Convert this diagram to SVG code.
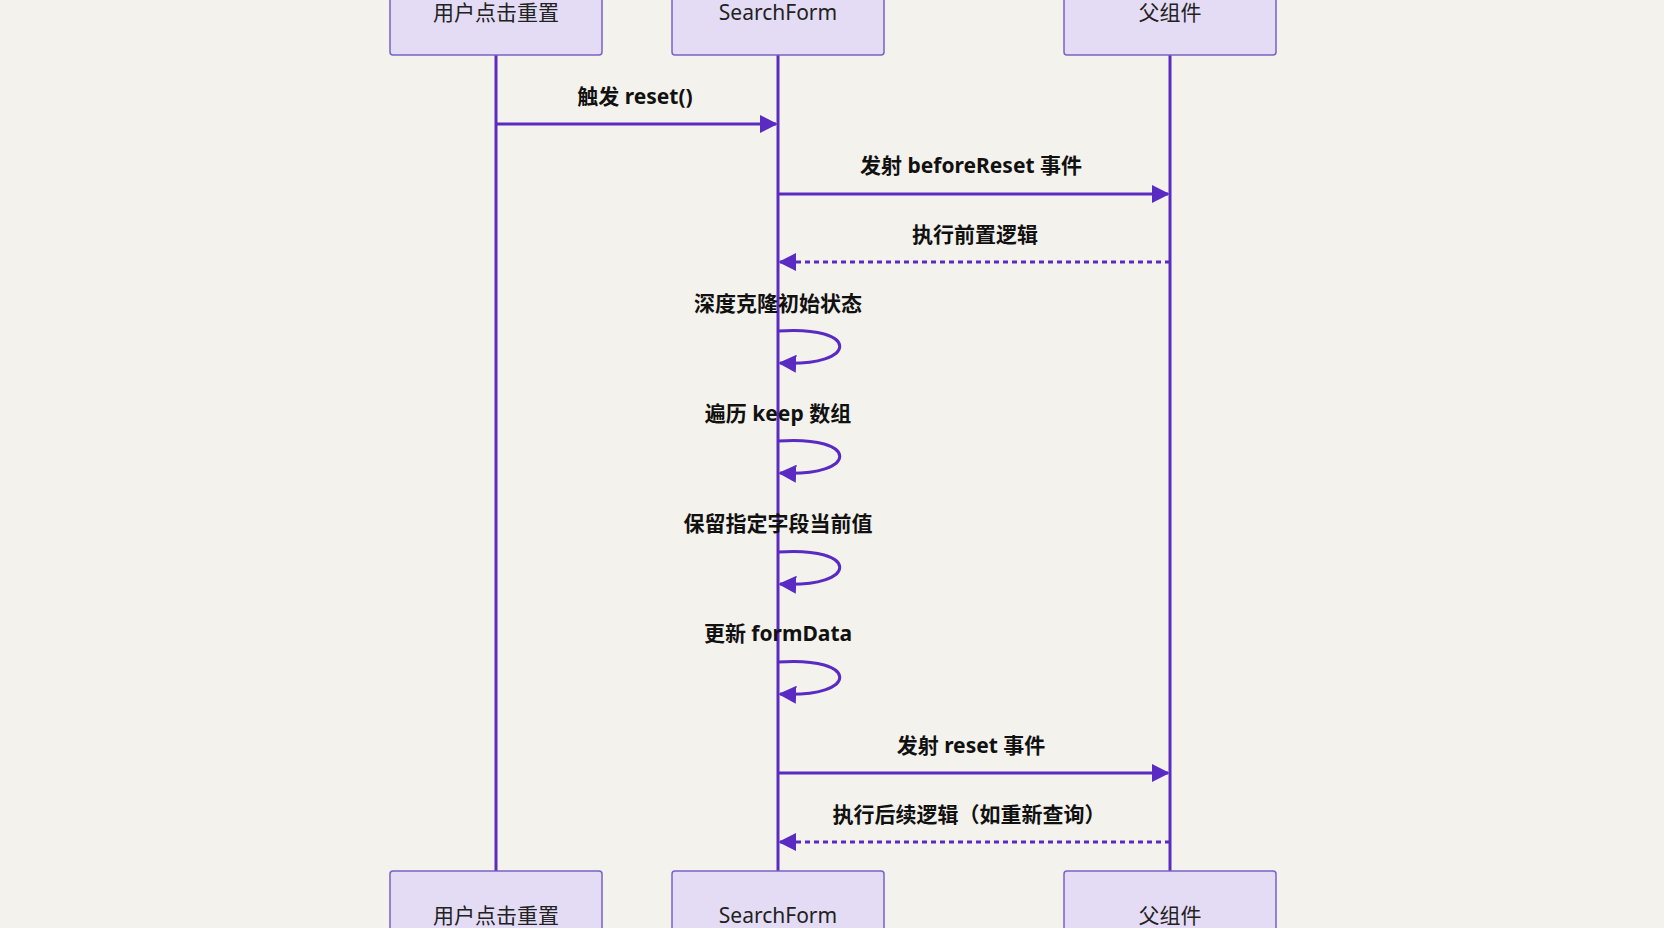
<svg xmlns="http://www.w3.org/2000/svg" width="1664" height="928" viewBox="0 0 1664 928">
<defs>
<style>
.box{fill:#e4dcf5;stroke:#7a60c8;stroke-width:1.5}
.bt{font-family:"Noto Sans","Noto Sans CJK SC",sans-serif;font-size:21px;fill:#222;text-anchor:middle}
.lbl{font-family:"Noto Sans","Noto Sans CJK SC",sans-serif;font-size:21px;font-weight:bold;fill:#111;text-anchor:middle}
.ll{stroke:#5a2bc2;stroke-width:3;fill:none}
.m{stroke:#5a2bc2;stroke-width:3;fill:none;marker-end:url(#a)}
.d{stroke-dasharray:5,4}
</style>
<marker id="a" viewBox="0 0 10 10" refX="9" refY="5" markerWidth="6" markerHeight="6" orient="auto" markerUnits="strokeWidth"><path d="M0,0L10,5L0,10z" fill="#5a2bc2"/></marker>
</defs>
<rect width="1664" height="928" fill="#f4f2ec"/>
<g id="lifelines">
<line class="ll" x1="496" y1="55" x2="496" y2="871"/>
<line class="ll" x1="778" y1="55" x2="778" y2="871"/>
<line class="ll" x1="1170" y1="55" x2="1170" y2="871"/>
</g>
<g id="n1"><rect class="box" x="390" y="-6" width="212" height="61" rx="3"/><text class="bt" x="496" y="20">用户点击重置</text></g>
<g id="n2"><rect class="box" x="672" y="-6" width="212" height="61" rx="3"/><text class="bt" x="778" y="20">SearchForm</text></g>
<g id="n3"><rect class="box" x="1064" y="-6" width="212" height="61" rx="3"/><text class="bt" x="1170" y="20">父组件</text></g>
<g id="n1b"><rect class="box" x="390" y="871" width="212" height="66" rx="3"/><text class="bt" x="496" y="923">用户点击重置</text></g>
<g id="n2b"><rect class="box" x="672" y="871" width="212" height="66" rx="3"/><text class="bt" x="778" y="923">SearchForm</text></g>
<g id="n3b"><rect class="box" x="1064" y="871" width="212" height="66" rx="3"/><text class="bt" x="1170" y="923">父组件</text></g>
<g id="connectors">
<line class="m" x1="496" y1="124" x2="776" y2="124"/>
<text class="lbl" x="635" y="104">触发 reset()</text>
<line class="m" x1="778" y1="194" x2="1168" y2="194"/>
<text class="lbl" x="971" y="173">发射 beforeReset 事件</text>
<line class="m d" x1="1170" y1="262" x2="780" y2="262"/>
<text class="lbl" x="975" y="242">执行前置逻辑</text>
<path class="m" d="M778,331 C860,325 860,367 780,363"/>
<text class="lbl" x="778" y="311">深度克隆初始状态</text>
<path class="m" d="M778,441 C860,435 860,477 780,473"/>
<text class="lbl" x="778" y="421">遍历 keep 数组</text>
<path class="m" d="M778,552 C860,546 860,588 780,584"/>
<text class="lbl" x="778" y="531">保留指定字段当前值</text>
<path class="m" d="M778,662 C860,656 860,698 780,694"/>
<text class="lbl" x="778" y="641">更新 formData</text>
<line class="m" x1="778" y1="773" x2="1168" y2="773"/>
<text class="lbl" x="971" y="753">发射 reset 事件</text>
<line class="m d" x1="1170" y1="842" x2="780" y2="842"/>
<text class="lbl" x="969" y="822">执行后续逻辑（如重新查询）</text>
</g>
</svg>
